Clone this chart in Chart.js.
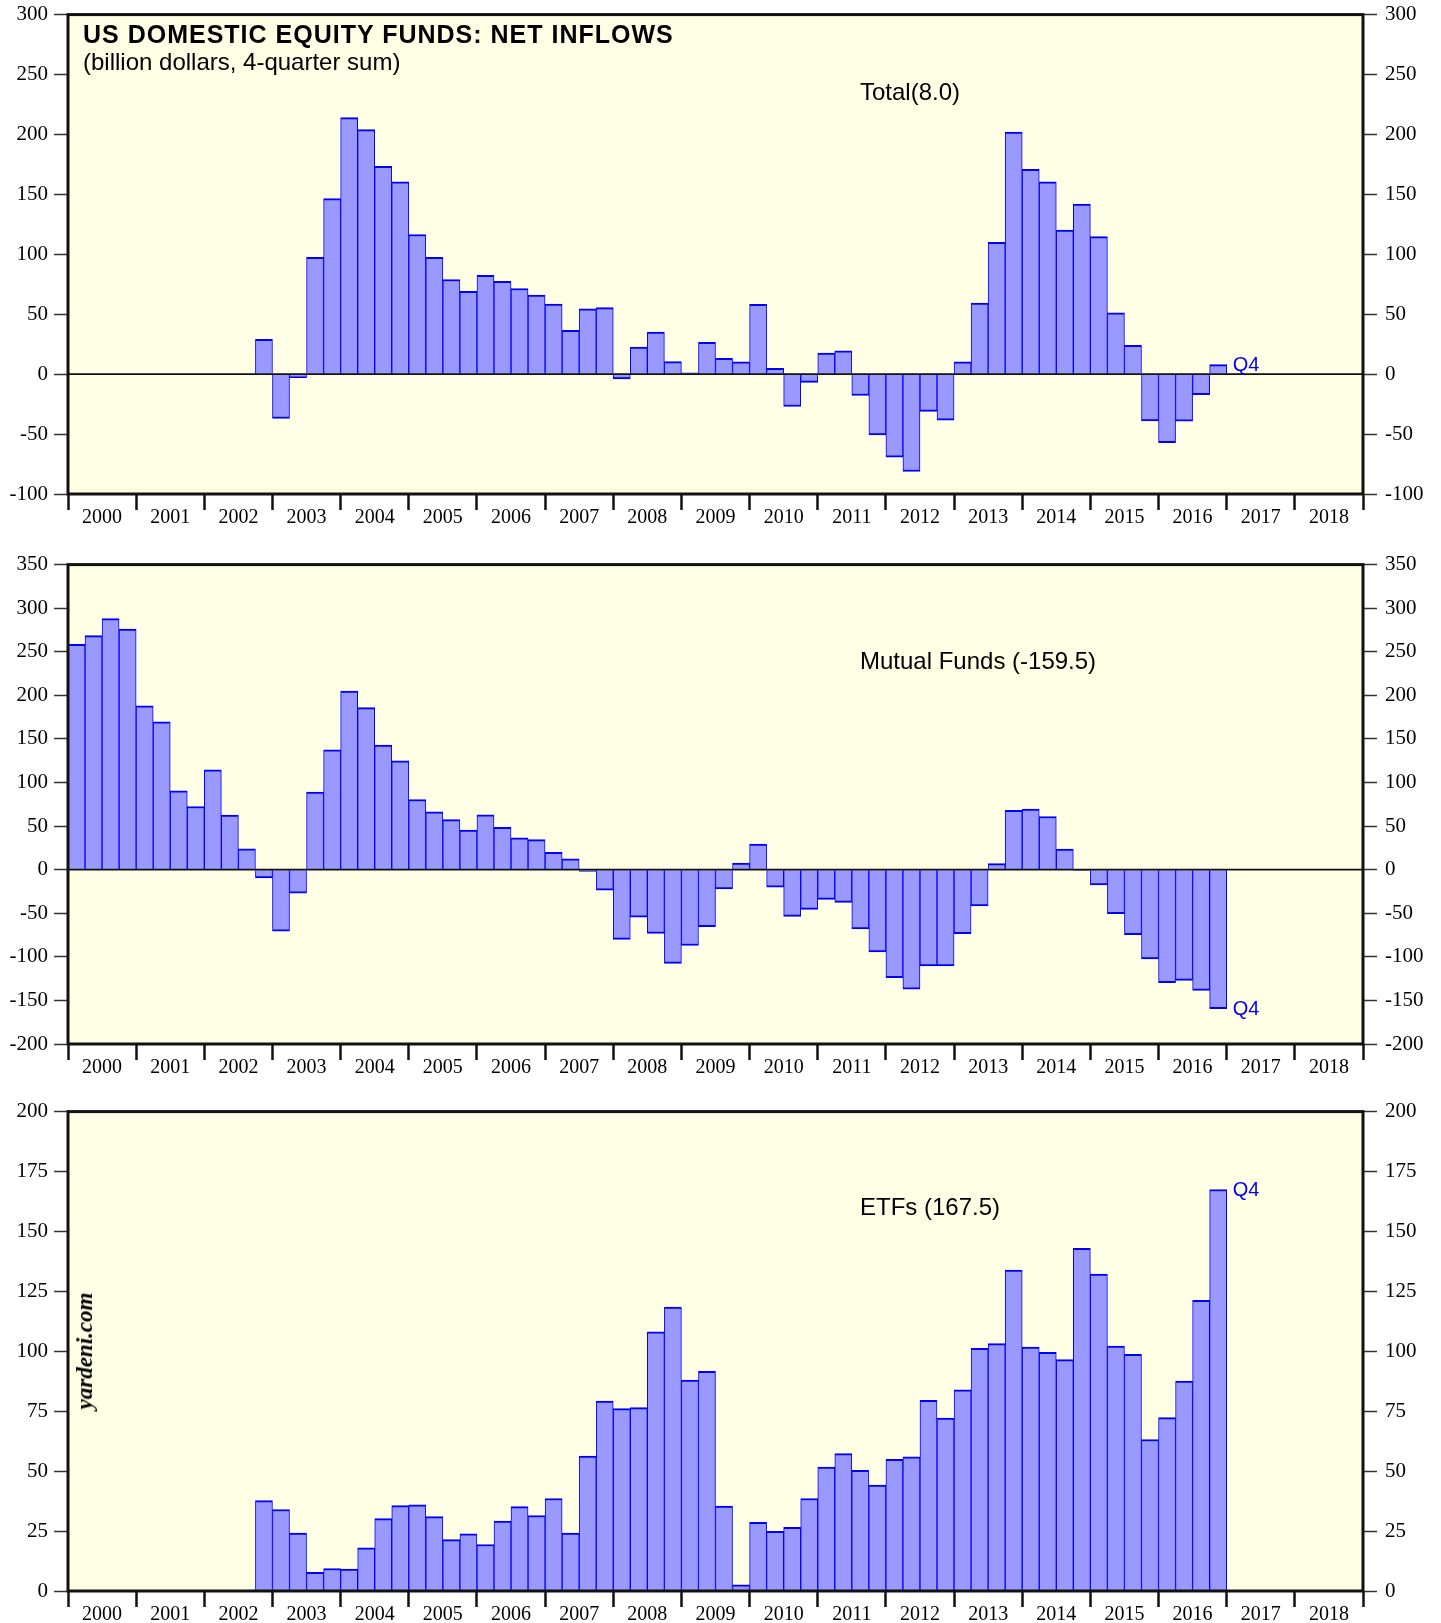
<!DOCTYPE html>
<html lang="en">
<head>
<meta charset="UTF-8">
<title>US Domestic Equity Funds: Net Inflows</title>
<script src="https://cdn.jsdelivr.net/npm/chart.js"></script>
<style>
  html, body { margin: 0; padding: 0; background: #fff; }
  body {
    position: relative;
    width: 1441px;
    height: 1623px;
    overflow: hidden;
    font-family: 'Liberation Sans', Arial, sans-serif;
  }
  canvas { position: absolute; left: 0; }
  .txt {
    position: absolute;
    white-space: nowrap;
    line-height: 24px;
    font-size: 24px;
    color: #000;
    z-index: 2;
  }
  .title { font-weight: bold; font-size: 25px; letter-spacing: 1px; }
  .site {
    font-family: 'Liberation Serif', 'Times New Roman', serif;
    font-weight: bold;
    font-style: italic;
    font-size: 23px;
    transform: translate(-50%, -50%) rotate(-90deg);
  }
</style>
</head>
<body>
<canvas id="total" width="1441" height="540" style="top:-6px"></canvas>
<canvas id="mutual" width="1441" height="540" style="top:544px"></canvas>
<canvas id="etf" width="1441" height="540" style="top:1091px"></canvas>

<div class="txt title" style="left:83px; top:22px">US DOMESTIC EQUITY FUNDS: NET INFLOWS</div>
<div class="txt" style="left:83px; top:50px">(billion dollars, 4-quarter sum)</div>
<div class="txt" style="left:860px; top:80px">Total(8.0)</div>
<div class="txt" style="left:860px; top:649px">Mutual Funds (-159.5)</div>
<div class="txt" style="left:860px; top:1195px">ETFs (167.5)</div>
<div class="txt site" style="left:85px; top:1351px">yardeni.com</div>

<script>
// x axis: 2000 to 2018, one bar per quarter
const years = ['2000', '2001', '2002', '2003', '2004', '2005', '2006', '2007', '2008', '2009',
               '2010', '2011', '2012', '2013', '2014', '2015', '2016', '2017', '2018'];
const quarterNames = ['Q1', 'Q2', 'Q3', 'Q4'];

// billion dollars, 4-quarter sum (2000 Q1 .. 2016 Q4)
const totalFlows = [
  null, null, null, null,  null, null, null, null,  null, null, null, 29,
  -37, -3, 97.5, 146.5,  214, 204, 173.5, 160.5,  116.5, 97.5, 79, 69,
  82.5, 77.5, 71.5, 66,  58.5, 36.5, 54.5, 55.5,  -4, 22.5, 35, 10.5,
  1, 26.5, 13.2, 10.3,  58.2, 4.9, -27, -6.9,  17.5, 19.5, -17.8, -50.8,
  -69.2, -81.2, -31, -38.5,  10.3, 59.4, 109.9, 202,  171, 160.4, 120.2, 142,
  114.8, 51.1, 24.1, -39,  -57.1, -39.3, -17.2, 8.0
];
const mutualFlows = [
  258.5, 268.5, 288, 276,  188, 169.5, 90.5, 72.5,  114.5, 62.5, 24, -9.5,
  -70.5, -27, 89, 137.5,  205, 186, 143, 125,  80.5, 66.5, 57.5, 45.5,
  63, 48.5, 36.5, 34.5,  20, 12.5, -2, -23.5,  -80, -54.5, -73, -107.5,
  -87, -65.5, -22, 7.5,  29.5, -20, -53.5, -45.5,  -34, -37.5, -68, -94.5,
  -124, -137, -110.5, -110.5,  -73.5, -41.5, 7, 68,  69.5, 61, 23.5, -1,
  -17.5, -50.5, -74.5, -102.5,  -129.5, -127, -138.5, -159.5
];
const etfFlows = [
  null, null, null, null,  null, null, null, null,  null, null, null, 37.7,
  34, 24.2, 7.8, 9.4,  9.1, 18, 30.2, 35.6,  36, 31, 21.4, 23.8,
  19.4, 29.2, 35.2, 31.5,  38.6, 24.2, 56.3, 79.2,  76.1, 76.5, 108.1, 118.5,
  88, 91.6, 35.4, 2.6,  28.6, 24.9, 26.6, 38.6,  51.7, 57.3, 50.3, 44.2,
  54.9, 56, 79.5, 72.1,  83.9, 101.2, 103.2, 133.9,  101.8, 99.6, 96.5, 143,
  132.2, 102.2, 98.7, 63.2,  72.3, 87.6, 121.3, 167.5
];

const quarters = [];
years.forEach(y => quarterNames.forEach(q => quarters.push(y + ' ' + q)));

const SERIF = "'Liberation Serif', 'Times New Roman', serif";
const PLOT_BG = '#FFFFE5';
const BAR_FILL = '#9999FF';
const BAR_EDGE = '#0000FF';

// background, zero line, frame and the "Q4" marker
const panelDecor = {
  id: 'panelDecor',
  beforeDraw(chart) {
    const a = chart.chartArea, ctx = chart.ctx;
    ctx.save();
    ctx.fillStyle = PLOT_BG;
    ctx.fillRect(a.left, a.top, a.right - a.left, a.bottom - a.top);
    ctx.restore();
  },
  afterDatasetsDraw(chart) {
    const a = chart.chartArea, ctx = chart.ctx, y = chart.scales.y;
    ctx.save();
    if (y.min < 0) {
      const y0 = y.getPixelForValue(0);
      ctx.strokeStyle = '#111';
      ctx.lineWidth = 1.6;
      ctx.beginPath();
      ctx.moveTo(a.left, y0);
      ctx.lineTo(a.right, y0);
      ctx.stroke();
    }
    ctx.strokeStyle = '#111';
    ctx.lineWidth = 3;
    ctx.strokeRect(a.left, a.top, a.right - a.left, a.bottom - a.top);

    const vals = chart.data.datasets[0].data;
    let last = vals.length - 1;
    while (last > 0 && vals[last] == null) last--;
    const bar = chart.getDatasetMeta(0).data[last];
    ctx.fillStyle = BAR_EDGE;
    ctx.font = "20px 'Liberation Sans', Arial, sans-serif";
    ctx.textBaseline = 'middle';
    ctx.textAlign = 'left';
    ctx.fillText('Q4', bar.x + bar.width / 2 + 6, bar.y + 1);
    ctx.restore();
  }
};

// year boundaries get a tick mark, half-years carry the label
function isYearEdge(c) {
  return !!(c.tick && Number.isInteger(c.tick.value));
}

function valueAxis(position, min, max, step, width, pad) {
  return {
    axis: 'y',
    position: position,
    min: min,
    max: max,
    afterFit: s => { s.width = width; },
    grid: { drawOnChartArea: false, drawTicks: true, tickLength: 14, tickWidth: 1.5, tickColor: '#333' },
    border: { display: false },
    ticks: { stepSize: step, padding: pad, color: '#000', font: { family: SERIF, size: 21 } }
  };
}

function makePanel(id, values, min, max, step) {
  return new Chart(document.getElementById(id), {
    type: 'bar',
    data: {
      labels: quarters,
      datasets: [{
        data: values,
        backgroundColor: BAR_FILL,
        borderColor: BAR_EDGE,
        borderWidth: { top: 2, bottom: 2, left: 1, right: 1 },
        barPercentage: 1,
        categoryPercentage: 1
      }]
    },
    options: {
      responsive: false,
      animation: false,
      layout: { padding: { top: 20, left: 0, right: 0, bottom: 0 } },
      plugins: { legend: { display: false }, tooltip: { enabled: false } },
      scales: {
        x: { display: false },
        xYears: {
          axis: 'x',
          type: 'linear',
          position: 'bottom',
          offset: false,
          min: 2000,
          max: 2019,
          afterFit: s => { s.height = 40; },
          grid: {
            offset: false,
            drawOnChartArea: false,
            drawTicks: true,
            tickLength: 16,
            tickWidth: 2.5,
            tickColor: c => isYearEdge(c) ? '#111' : 'rgba(0,0,0,0)'
          },
          border: { display: false },
          ticks: {
            stepSize: 0.5,
            autoSkip: false,
            maxRotation: 0,
            padding: -4,
            color: '#000',
            font: { family: SERIF, size: 20 },
            callback: v => Number.isInteger(v) ? '' : years[Math.floor(v) - 2000]
          }
        },
        y: valueAxis('left', min, max, step, 68, 6),
        y2: valueAxis('right', min, max, step, 78, 8)
      }
    },
    plugins: [panelDecor]
  });
}

makePanel('total', totalFlows, -100, 300, 50);
makePanel('mutual', mutualFlows, -200, 350, 50);
makePanel('etf', etfFlows, 0, 200, 25);
</script>
</body>
</html>
